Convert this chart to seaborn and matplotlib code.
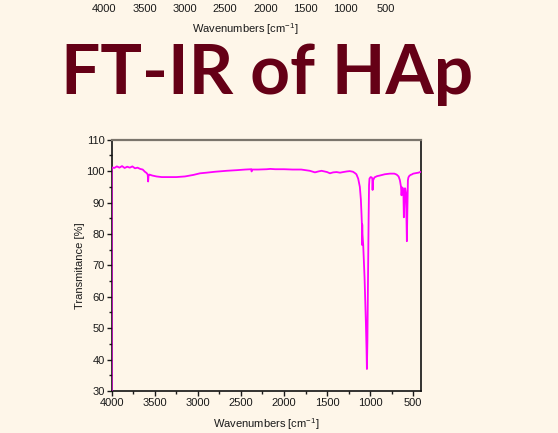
import matplotlib
matplotlib.use("Agg")
import matplotlib.pyplot as plt
import seaborn as sns
import pandas as pd
from matplotlib.ticker import MultipleLocator

# ---------------- data ----------------
wavenumber = [4000, 4000, 3970, 3940, 3910, 3880, 3850, 3820, 3790, 3760, 3730, 3700,
              3670, 3640, 3615, 3595, 3582, 3577, 3572, 3562, 3530, 3480, 3420, 3350,
              3250, 3150, 3050, 2975, 2900, 2800, 2667, 2550, 2450, 2380, 2376, 2370,
              2300, 2200, 2160, 2100, 2000, 1900, 1800, 1700, 1641, 1600, 1564, 1500,
              1467, 1430, 1390, 1350, 1313, 1270, 1236, 1200, 1178, 1160, 1139, 1120,
              1108, 1100, 1096, 1094, 1092, 1090, 1081, 1065, 1050, 1042, 1038, 1032,
              1025, 1018, 1013, 1008, 995, 982, 975, 972, 968, 962, 950, 920, 887, 830,
              771, 720, 693, 670, 655, 642, 636, 628, 620, 614, 609, 604, 598, 593,
              585, 578, 574, 568, 562, 556, 545, 530, 519, 500, 480, 462, 440, 420, 405]
transmittance = [28.0, 101.2, 101.0, 101.5, 101.1, 101.6, 101.0, 101.4, 101.1, 101.5, 100.9, 101.1,
                 100.7, 100.5, 99.8, 99.4, 98.9, 96.7, 98.8, 98.9, 98.6, 98.3, 98.1, 98.1,
                 98.1, 98.3, 98.8, 99.3, 99.5, 99.8, 100.1, 100.3, 100.5, 100.6, 99.9, 100.5,
                 100.5, 100.6, 100.7, 100.6, 100.6, 100.5, 100.5, 100.1, 99.6, 99.9, 100.1, 99.7,
                 99.3, 99.6, 99.7, 99.5, 99.7, 99.9, 100.0, 99.8, 99.4, 99.0, 97.6, 95.0,
                 91.0, 86.0, 83.0, 76.5, 83.0, 80.0, 76.6, 66.0, 52.0, 43.0, 37.0, 46.0,
                 66.0, 85.0, 95.5, 97.6, 98.1, 98.0, 97.6, 94.0, 97.0, 97.3, 98.0, 98.4, 98.6, 99.0,
                 99.2, 99.2, 98.9, 98.3, 97.1, 95.0, 92.3, 94.8, 94.5, 93.0, 85.3, 90.0, 94.5, 94.5,
                 93.0, 84.0, 77.7, 88.0, 97.1, 98.0, 98.5, 98.8, 98.9, 99.2, 99.3, 99.4, 99.5, 99.7, 99.8]

x_ticks = [4000, 3500, 3000, 2500, 2000, 1500, 1000, 500]
y_ticks = [30, 40, 50, 60, 70, 80, 90, 100, 110]

title_text = "FT-IR of HAp"
x_label = "Wavenumbers [cm$^{-1}$]"
y_label = "Transmitance [%]"

# ---------------- style ----------------
BG = "#fef6e9"
sns.set_style("ticks")
plt.rcParams["font.family"] = ["Liberation Sans", "DejaVu Sans"]
plt.rcParams["mathtext.fontset"] = "custom"
plt.rcParams["mathtext.rm"] = "Liberation Sans"
plt.rcParams["mathtext.it"] = "Liberation Sans"
plt.rcParams["mathtext.default"] = "regular"

fig = plt.figure(figsize=(5.58, 4.33), dpi=100)
fig.patch.set_facecolor(BG)

# ---- remnant of the chart above (only its x axis shows) ----
ax0 = fig.add_axes([104.3 / 558, 1.0, (386 - 104.3) / 558, 0.001])
ax0.set_facecolor("none")
ax0.set_xlim(4000, 500)
ax0.set_ylim(0, 1)
ax0.set_xticks(x_ticks)
ax0.set_xticklabels([str(t) for t in x_ticks])
ax0.set_yticks([])
for s in ax0.spines.values():
    s.set_visible(False)
ax0.tick_params(axis="x", length=0, pad=2.8, labelsize=8, colors="#1a1a1a")
ax0.set_xlabel(x_label, fontsize=8, labelpad=5, color="#1a1a1a")

# ---- big title ----
fig.text(267 / 558, 1 - 93.5 / 433, title_text, fontsize=50, fontweight="bold",
         family=["Lato", "DejaVu Sans"], color="#650016", ha="center", va="baseline")

# ---- main chart ----
ax = fig.add_axes([111.7 / 558, 1 - 391 / 433, (421 - 111.7) / 558, (391 - 139.7) / 433])
ax.set_facecolor(BG)
df = pd.DataFrame({"wn": wavenumber, "T": transmittance})
sns.lineplot(data=df, x="wn", y="T", sort=False, estimator=None, ax=ax,
             color="#ff00ff", linewidth=1.3, zorder=3)
ax.set_xlim(4000, 410)
ax.set_ylim(30, 110)
ax.set_xticks(x_ticks)
ax.set_yticks(y_ticks)
ax.xaxis.set_minor_locator(MultipleLocator(250))
ax.yaxis.set_minor_locator(MultipleLocator(5))
ax.tick_params(axis="both", which="major", direction="out", length=3.5, width=1,
               labelsize=8, pad=1.5, colors="#1a1a1a")
ax.tick_params(axis="both", which="minor", direction="out", length=2.2, width=1,
               colors="#1a1a1a")
ax.tick_params(top=False, right=False, which="both")
ax.set_xlabel(x_label, fontsize=8, labelpad=6, color="#1a1a1a")
ax.set_ylabel(y_label, fontsize=8, labelpad=1, color="#1a1a1a")
for side in ["left", "bottom", "right"]:
    ax.spines[side].set_color("#111111")
    ax.spines[side].set_linewidth(1.2)
    ax.spines[side].set_visible(True)
ax.spines["top"].set_visible(True)
ax.spines["top"].set_color("#7b756c")
ax.spines["top"].set_linewidth(1.6)
# trace drawn above the left spine so the 4000 cm-1 edge segment shows, as in the reference
ax.spines["left"].set_zorder(2)

fig.savefig("out.png", dpi=100, facecolor=BG)
